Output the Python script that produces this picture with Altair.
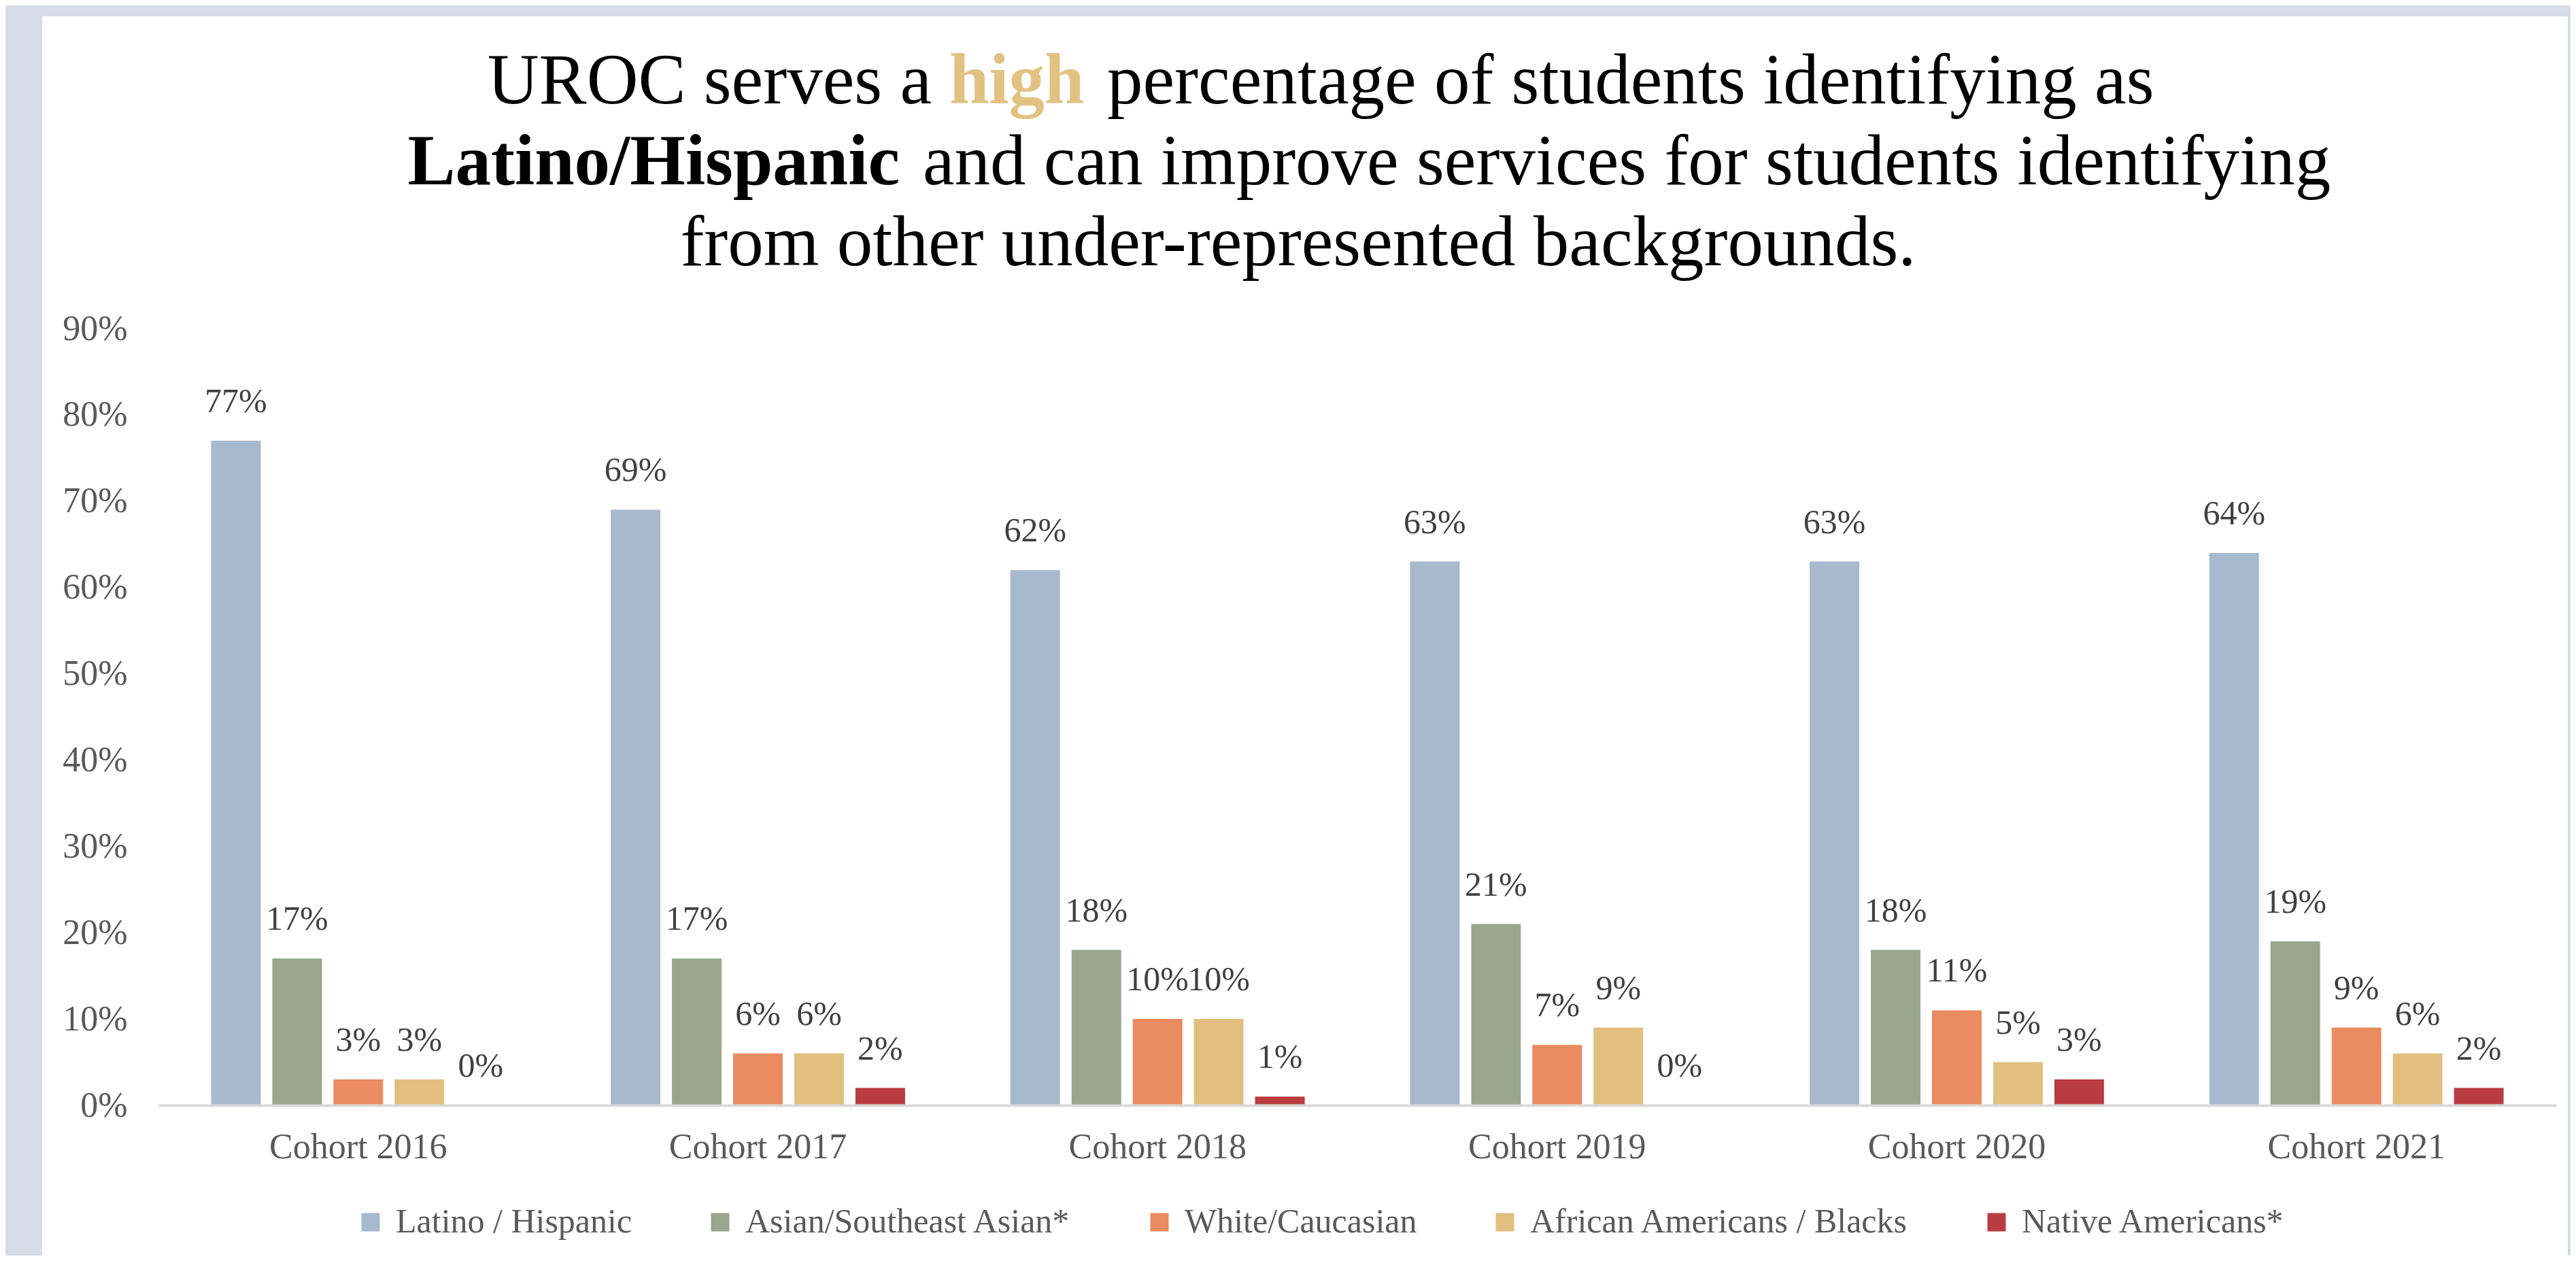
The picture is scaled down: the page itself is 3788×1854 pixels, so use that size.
import altair as alt
import pandas as pd

cohorts = ["Cohort 2016", "Cohort 2017", "Cohort 2018", "Cohort 2019", "Cohort 2020", "Cohort 2021"]
groups = ["Latino / Hispanic", "Asian/Southeast Asian*", "White/Caucasian",
          "African Americans / Blacks", "Native Americans*"]
colors = ["#A6B9CD", "#99A68B", "#EA8B61", "#E2BF80", "#B93C40"]

latino = [77, 69, 62, 63, 63, 64]
asian = [17, 17, 18, 21, 18, 19]
white = [3, 6, 10, 7, 11, 9]
african = [3, 6, 10, 9, 5, 6]
native = [0, 2, 1, 0, 3, 2]

y_ticks = [0, 0.1, 0.2, 0.3, 0.4, 0.5, 0.6, 0.7, 0.8, 0.9]

rows = []
for series, name in zip([latino, asian, white, african, native], groups):
    for c, v in zip(cohorts, series):
        rows.append({"cohort": c, "group": name, "share": v / 100})
df = pd.DataFrame(rows)

FONT = "Liberation Serif"
W, H = 3526, 1142

one = alt.Data(values=[{"k": 1}])

bg = alt.Chart(one).mark_rect(color="#D6DCE5").encode(
    x=alt.value(-225), x2=alt.value(3547), y=alt.value(-475), y2=alt.value(1363))
panel = alt.Chart(one).mark_rect(color="#FFFFFF").encode(
    x=alt.value(-171), x2=alt.value(3543), y=alt.value(-459), y2=alt.value(1363))

base = alt.Chart(df).encode(
    x=alt.X("cohort:N", sort=cohorts, title=None,
            scale=alt.Scale(paddingInner=0, paddingOuter=0),
            axis=alt.Axis(labelAngle=0, ticks=False, domainColor="#D9D9D9", domainWidth=4,
                          labelFont=FONT, labelFontSize=52, labelColor="#595959",
                          labelPadding=36, labelLimit=0, zindex=1)),
    xOffset=alt.XOffset("group:N", sort=groups,
                        scale=alt.Scale(paddingInner=0.189, paddingOuter=0.861)),
    y=alt.Y("share:Q", title=None,
            scale=alt.Scale(domain=[0, 0.9], nice=False),
            axis=alt.Axis(format=".0%", values=y_ticks, grid=False, domain=False, ticks=False,
                          labelFont=FONT, labelFontSize=52, labelColor="#595959",
                          labelPadding=46, labelLimit=0, zindex=1)),
)

bars = base.mark_bar().encode(
    color=alt.Color("group:N", sort=groups,
                    scale=alt.Scale(domain=groups, range=colors),
                    legend=alt.Legend(orient="none", legendX=287, legendY=1289,
                                      direction="horizontal", title=None,
                                      symbolType="square", symbolSize=729,
                                      symbolStrokeWidth=0, labelFont=FONT,
                                      labelFontSize=50, labelColor="#595959",
                                      labelOffset=12, columnPadding=104,
                                      labelLimit=0, zindex=1))
)

labels = base.mark_text(baseline="alphabetic", dy=-42, font=FONT, fontSize=50,
                        color="#404040").encode(
    text=alt.Text("share:Q", format=".0%"))


def ttext(txt, x, y, align, bold=False, color="#000000"):
    return alt.Chart(one).mark_text(
        text=txt, align=align, baseline="alphabetic", font=FONT, fontSize=105,
        fontWeight="bold" if bold else "normal", color=color
    ).encode(x=alt.value(x), y=alt.value(y))


t1a = ttext("UROC serves a", 1137, -331, "right")
t1b = ttext("high", 1163, -331, "left", bold=True, color="#E2C282")
t1c = ttext("percentage of students identifying as", 1395, -331, "left")
t2a = ttext("Latino/Hispanic", 1090, -212, "right", bold=True)
t2b = ttext("and can improve services for students identifying", 1124, -212, "left")
t3 = ttext("from other under-represented backgrounds.", 1676, -93, "center")

chart = alt.layer(bg, panel, bars, labels, t1a, t1b, t1c, t2a, t2b, t3).properties(
    width=W, height=H, padding=0, background="#D6DCE5"
).configure_view(strokeWidth=0)

chart.save("out.html", embed_options={"renderer": "svg", "actions": False})
